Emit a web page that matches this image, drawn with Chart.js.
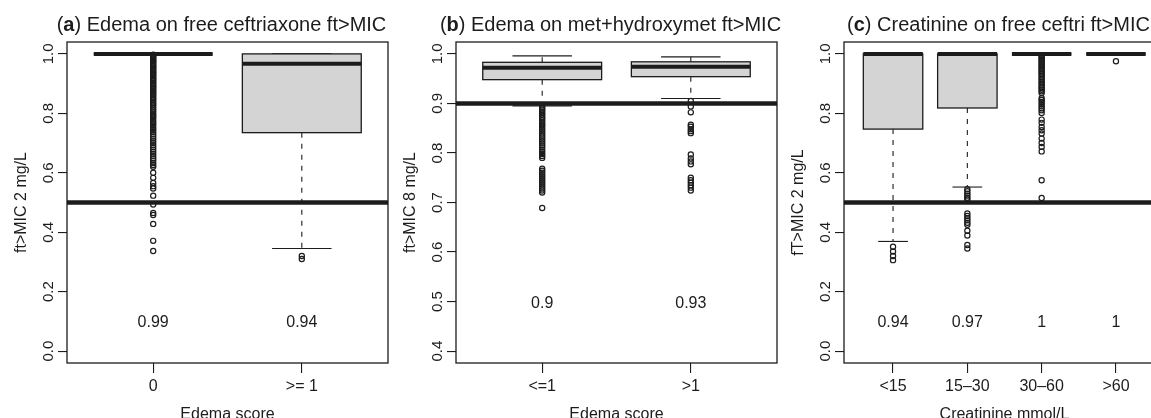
<!DOCTYPE html>
<html>
<head>
<meta charset="utf-8">
<script src="https://cdn.jsdelivr.net/npm/chart.js@4.4.1/dist/chart.umd.min.js"></script>
<style>
  html, body { margin: 0; padding: 0; background: #fff; overflow: hidden; }
  #wrap { position: relative; width: 1151px; height: 418px; overflow: hidden; }
  canvas { position: absolute; top: 0; }
</style>
</head>
<body>
<div id="wrap">
  <canvas id="chartA" width="400" height="418" style="left:0px"></canvas>
  <canvas id="chartB" width="400" height="418" style="left:389px"></canvas>
  <canvas id="chartC" width="400" height="418" style="left:777px"></canvas>
</div>
<script>
// ---- panel (a): edema vs free ceftriaxone ----
const aGroups = ['0', '>= 1'];
const aLowWhisker = [1.0, 0.345];
const aQ1 = [1.0, 0.735];
const aMedian = [1.0, 0.967];
const aQ3 = [1.0, 1.0];
const aHighWhisker = [1.0, 1.0];
const aOut0 = [0.997, 0.993, 0.99, 0.986, 0.982, 0.978, 0.975, 0.971, 0.966, 0.962, 0.958, 0.954, 0.95,
  0.946, 0.941, 0.937, 0.933, 0.929, 0.925, 0.92, 0.916, 0.912, 0.908, 0.903, 0.899, 0.894, 0.89, 0.885,
  0.88, 0.876, 0.871, 0.866, 0.862, 0.856, 0.851, 0.846, 0.84, 0.834, 0.829, 0.823, 0.816, 0.81, 0.804,
  0.797, 0.791, 0.785, 0.778, 0.771, 0.765, 0.758, 0.751, 0.744, 0.737, 0.73, 0.722, 0.715, 0.708, 0.7,
  0.693, 0.686, 0.678, 0.671, 0.663, 0.656, 0.648, 0.641, 0.633, 0.626, 0.62,
  0.6, 0.583, 0.566, 0.555, 0.547, 0.523, 0.493, 0.465, 0.458, 0.428, 0.371, 0.337];
const aOut1 = [0.32, 0.31];
const aRatio = ['0.99', '0.94'];
const aTicks = [0, 0.2, 0.4, 0.6, 0.8, 1.0];

// ---- panel (b): edema vs met+hydroxymet ----
const bGroups = ['<=1', '>1'];
const bLowWhisker = [0.895, 0.910];
const bQ1 = [0.948, 0.954];
const bMedian = [0.972, 0.974];
const bQ3 = [0.983, 0.984];
const bHighWhisker = [0.996, 0.994];
const bOut0 = [0.893, 0.89, 0.887, 0.884, 0.88, 0.877, 0.873, 0.87, 0.866, 0.862, 0.858, 0.855, 0.851,
  0.847, 0.843, 0.839, 0.835, 0.831, 0.827, 0.823, 0.819, 0.815, 0.811, 0.806, 0.802, 0.798, 0.794, 0.79,
  0.768, 0.764, 0.76, 0.756, 0.752, 0.748, 0.744, 0.74, 0.736, 0.732, 0.728, 0.724, 0.72, 0.689];
const bOut1 = [0.905, 0.894, 0.882, 0.857, 0.853, 0.848, 0.844, 0.84, 0.797, 0.789, 0.783, 0.777,
  0.75, 0.745, 0.74, 0.735, 0.73, 0.724];
const bRatio = ['0.9', '0.93'];
const bTicks = [0.4, 0.5, 0.6, 0.7, 0.8, 0.9, 1.0];

// ---- panel (c): creatinine vs free ceftriaxone ----
const cGroups = ['<15', '15\u201330', '30\u201360', '>60'];
const cLowWhisker = [0.369, 0.552, 1.0, 1.0];
const cQ1 = [0.747, 0.818, 1.0, 1.0];
const cMedian = [1.0, 1.0, 1.0, 1.0];
const cQ3 = [1.0, 1.0, 1.0, 1.0];
const cHighWhisker = [1.0, 1.0, 1.0, 1.0];
const cOut0 = [0.351, 0.335, 0.32, 0.306];
const cOut1 = [0.545, 0.538, 0.53, 0.523, 0.516, 0.51, 0.463, 0.455, 0.447, 0.44, 0.432, 0.425,
  0.405, 0.389, 0.357, 0.345];
const cOut2 = [0.996, 0.991, 0.987, 0.982, 0.977, 0.972, 0.967, 0.962, 0.957, 0.952, 0.947, 0.942,
  0.937, 0.932, 0.927, 0.921, 0.916, 0.911, 0.905, 0.9, 0.894, 0.889, 0.884, 0.879, 0.874, 0.868,
  0.851, 0.845, 0.838, 0.831, 0.824, 0.817, 0.81, 0.801,
  0.779, 0.768, 0.754, 0.743, 0.732, 0.715, 0.7, 0.687, 0.672, 0.575, 0.515];
const cOut3 = [0.975];
const cRatio = ['0.94', '0.97', '1', '1'];
const cTicks = [0, 0.2, 0.4, 0.6, 0.8, 1.0];

const INK = '#1c1c1c';
const FONT = '"Liberation Sans", Arial, Helvetica, sans-serif';
const BOX_HALF = 0.4;     // boxwex 0.8
const STAPLE_HALF = 0.2;  // staplewex 0.5

const panels = [
  { id: 'chartA', letter: 'a', title: ' Edema on free ceftriaxone ft>MIC', xTitle: 'Edema score', yTitle: 'ft>MIC 2 mg/L',
    groups: aGroups, low: aLowWhisker, q1: aQ1, med: aMedian, q3: aQ3, high: aHighWhisker,
    outliers: [aOut0, aOut1], ratio: aRatio, ratioY: 0.1, refY: 0.5, yTicks: aTicks, yMin: -0.04, yMax: 1.04 },
  { id: 'chartB', letter: 'b', title: ' Edema on met+hydroxymet ft>MIC', xTitle: 'Edema score', yTitle: 'ft>MIC 8 mg/L',
    groups: bGroups, low: bLowWhisker, q1: bQ1, med: bMedian, q3: bQ3, high: bHighWhisker,
    outliers: [bOut0, bOut1], ratio: bRatio, ratioY: 0.5, refY: 0.9, yTicks: bTicks, yMin: 0.376, yMax: 1.024 },
  { id: 'chartC', letter: 'c', title: ' Creatinine on free ceftri ft>MIC', xTitle: 'Creatinine mmol/L', yTitle: 'fT>MIC 2 mg/L',
    groups: cGroups, low: cLowWhisker, q1: cQ1, med: cMedian, q3: cQ3, high: cHighWhisker,
    outliers: [cOut0, cOut1, cOut2, cOut3], ratio: cRatio, ratioY: 0.1, refY: 0.5, yTicks: cTicks, yMin: -0.04, yMax: 1.04 }
];

function seg(ctx, x1, y1, x2, y2) {
  ctx.beginPath(); ctx.moveTo(x1, y1); ctx.lineTo(x2, y2); ctx.stroke();
}

// R-style boxes, whiskers and annotations, all placed through the chart scales
const rBoxPlugin = {
  id: 'rbox',
  beforeDatasetsDraw(chart, args, opts) {
    const p = opts.panel;
    const { ctx } = chart;
    const xs = chart.scales.x, ys = chart.scales.y;
    ctx.save();
    ctx.strokeStyle = INK;
    p.groups.forEach((g, i) => {
      const c = i + 1;
      const xc = xs.getPixelForValue(c);
      const xl = xs.getPixelForValue(c - BOX_HALF), xr = xs.getPixelForValue(c + BOX_HALF);
      const sl = xs.getPixelForValue(c - STAPLE_HALF), sr = xs.getPixelForValue(c + STAPLE_HALF);
      const yLow = ys.getPixelForValue(p.low[i]), yQ1 = ys.getPixelForValue(p.q1[i]);
      const yMed = ys.getPixelForValue(p.med[i]), yQ3 = ys.getPixelForValue(p.q3[i]);
      const yHigh = ys.getPixelForValue(p.high[i]);
      ctx.lineWidth = 1.1;
      ctx.setLineDash([5, 6]);
      if (p.low[i] < p.q1[i]) seg(ctx, xc, yQ1, xc, yLow);
      if (p.high[i] > p.q3[i]) seg(ctx, xc, yQ3, xc, yHigh);
      ctx.setLineDash([]);
      seg(ctx, sl, yLow, sr, yLow);
      seg(ctx, sl, yHigh, sr, yHigh);
      ctx.fillStyle = '#d4d4d4';
      ctx.fillRect(xl, yQ3, xr - xl, yQ1 - yQ3);
      ctx.lineWidth = 1.3;
      ctx.strokeRect(xl, yQ3, xr - xl, yQ1 - yQ3);
      ctx.lineWidth = 4;
      ctx.lineCap = 'butt';
      seg(ctx, xl, yMed, xr, yMed);
    });
    ctx.restore();
  },
  afterDatasetsDraw(chart, args, opts) {
    const p = opts.panel;
    const { ctx, chartArea: a } = chart;
    const xs = chart.scales.x, ys = chart.scales.y;
    ctx.save();
    // reference line
    ctx.beginPath(); ctx.rect(a.left, a.top, a.right - a.left, a.bottom - a.top); ctx.clip();
    ctx.strokeStyle = INK; ctx.lineWidth = 4.5;
    const yr = ys.getPixelForValue(p.refY);
    seg(ctx, a.left, yr, a.right, yr);
    ctx.restore();

    ctx.save();
    // ratio labels
    ctx.fillStyle = INK;
    ctx.font = '16px ' + FONT;
    ctx.textAlign = 'center'; ctx.textBaseline = 'alphabetic';
    p.ratio.forEach((t, i) => {
      ctx.fillText(t, xs.getPixelForValue(i + 1), ys.getPixelForValue(p.ratioY) + 6);
    });
    // frame
    ctx.strokeStyle = INK; ctx.lineWidth = 1.3;
    ctx.strokeRect(a.left, a.top, a.right - a.left, a.bottom - a.top);
    // rotated y tick labels (R las = 0)
    ctx.font = '15px ' + FONT;
    p.yTicks.forEach(v => {
      ctx.save();
      ctx.translate(a.left - 14, ys.getPixelForValue(v));
      ctx.rotate(-Math.PI / 2);
      ctx.fillText(v.toFixed(1), 0, 0);
      ctx.restore();
    });
    // title with bold panel letter
    const mid = (a.left + a.right) / 2 - 6;
    const normal = '20px ' + FONT, bold = 'bold 20px ' + FONT;
    ctx.font = normal; const w1 = ctx.measureText('(').width;
    ctx.font = bold; const w2 = ctx.measureText(p.letter).width;
    ctx.font = normal; const w3 = ctx.measureText(')' + p.title).width;
    let x0 = mid - (w1 + w2 + w3) / 2;
    ctx.textAlign = 'left';
    ctx.font = normal; ctx.fillText('(', x0, 30.5);
    ctx.font = bold; ctx.fillText(p.letter, x0 + w1, 30.5);
    ctx.font = normal; ctx.fillText(')' + p.title, x0 + w1 + w2, 30.5);
    ctx.restore();
  }
};

function makePanel(p) {
  const n = p.groups.length;
  const pad = 0.04 * n;
  const datasets = p.outliers.map((vals, i) => ({
    data: vals.map(v => ({ x: i + 1, y: v })),
    pointRadius: 2.6,
    pointBorderWidth: 1.2,
    pointBackgroundColor: 'rgba(0,0,0,0)',
    pointBorderColor: INK,
    showLine: false
  }));
  return new Chart(document.getElementById(p.id), {
    type: 'scatter',
    data: { datasets },
    options: {
      responsive: false,
      animation: false,
      events: [],
      layout: { padding: { top: 42, right: 12, left: 0, bottom: 0 } },
      plugins: { legend: { display: false }, tooltip: { enabled: false }, rbox: { panel: p } },
      scales: {
        x: {
          type: 'linear',
          min: 0.5 - pad, max: n + 0.5 + pad,
          afterBuildTicks: s => { s.ticks = p.groups.map((g, i) => ({ value: i + 1 })); },
          afterFit: s => { s.height = 55; },
          ticks: { autoSkip: false, maxRotation: 0, padding: 4, color: INK, font: { family: FONT, size: 16 },
            callback: (v, i) => p.groups[i] },
          grid: { drawOnChartArea: false, tickLength: 10, color: INK, lineWidth: 1.1 },
          border: { display: false },
          title: { display: true, text: p.xTitle, color: INK, font: { family: FONT, size: 16, lineHeight: 1 },
            padding: { top: 0, bottom: -5 } }
        },
        y: {
          type: 'linear',
          min: p.yMin, max: p.yMax,
          afterBuildTicks: s => { s.ticks = p.yTicks.map(v => ({ value: v })); },
          afterFit: s => { s.width = 67; },
          ticks: { display: false },
          grid: { drawOnChartArea: false, tickLength: 9, color: INK, lineWidth: 1.1 },
          border: { display: false },
          title: { display: true, text: p.yTitle, color: INK, font: { family: FONT, size: 16, lineHeight: 1 },
            padding: { top: 14, bottom: 0 } }
        }
      }
    },
    plugins: [rBoxPlugin]
  });
}

panels.forEach(makePanel);
</script>
</body>
</html>
